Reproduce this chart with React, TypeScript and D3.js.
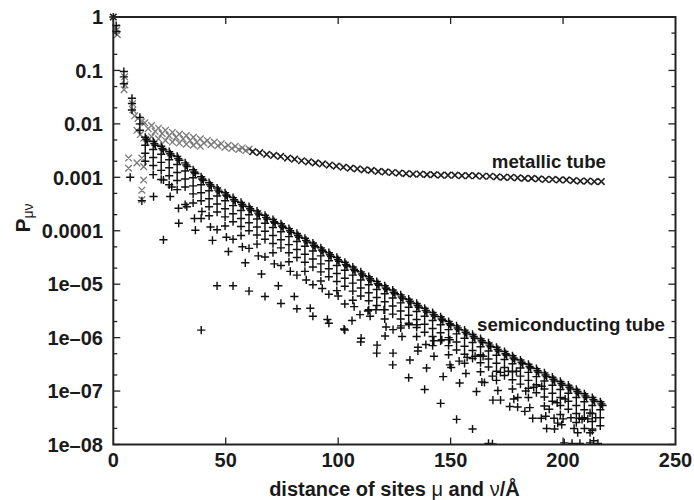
import React from 'react';
import * as d3 from 'd3';

const W = 694;
const H = 500;
const X0 = 113.3, X1 = 675.5, Y0 = 17, Y1 = 444.5;

const xTicks = [0, 50, 100, 150, 200, 250];
const yTicks = [1, 0.1, 0.01, 0.001, 0.0001, 1e-5, 1e-6, 1e-7, 1e-8];
const yTickLabels = ['1', '0.1', '0.01', '0.001', '0.0001', '1e–05', '1e–06', '1e–07', '1e–08'];
const yMinorFactors = [2, 5];

// ---------- metallic tube (log10 P) ----------
const metalEarlyX = [0, 1.5, 1.8, 1.2, 5.0, 5.2, 4.8, 8.5, 8.7, 9.5, 6.8, 6.8, 10.5, 12.7, 13.5, 13.5, 12.7, 12.7];
const metalEarlyLogP = [0, -0.25, -0.33, -0.2, -1.12, -1.27, -1.36, -1.62, -1.74, -1.85, -2.64, -2.83, -2.73, -2.64, -2.8, -3.05, -3.24, -3.42];

const metalX = [15.5, 18.6, 21.7, 24.8, 27.9, 31.0, 34.1, 37.2, 40.3, 43.4, 46.5, 49.6, 52.7, 55.8, 58.9, 62.0, 65.1, 68.2, 71.3, 74.4, 77.5, 80.6, 83.7, 86.8, 89.9, 93.0, 96.1, 99.2, 102.3, 105.4, 108.5, 111.6, 114.7, 117.8, 120.9, 124.0, 127.1, 130.2, 133.3, 136.4, 139.5, 142.6, 145.7, 148.8, 151.9, 155.0, 158.1, 161.2, 164.3, 167.4, 170.5, 173.6, 176.7, 179.8, 182.9, 186.0, 189.1, 192.2, 195.3, 198.4, 201.5, 204.6, 207.7, 210.8, 213.9, 217.0];
const metalLogP = [-2.09, -2.14, -2.18, -2.22, -2.25, -2.28, -2.31, -2.34, -2.36, -2.39, -2.41, -2.44, -2.46, -2.48, -2.5, -2.52, -2.54, -2.57, -2.59, -2.61, -2.64, -2.66, -2.69, -2.71, -2.73, -2.75, -2.77, -2.79, -2.81, -2.83, -2.84, -2.86, -2.87, -2.89, -2.9, -2.91, -2.92, -2.93, -2.94, -2.94, -2.95, -2.95, -2.96, -2.96, -2.96, -2.97, -2.97, -2.97, -2.98, -2.98, -2.99, -3.0, -3.0, -3.01, -3.02, -3.02, -3.03, -3.04, -3.04, -3.05, -3.05, -3.06, -3.07, -3.07, -3.08, -3.08];

const metalUpperX = [11.0, 12.5, 14.0, 17.0, 20.1, 23.2, 26.3, 29.4, 32.5, 35.6, 38.7, 41.8, 44.9, 48.0, 51.1, 54.2, 57.3, 60.4];
const metalUpperLogP = [-1.9, -1.96, -1.98, -2.03, -2.08, -2.12, -2.16, -2.19, -2.22, -2.25, -2.28, -2.31, -2.34, -2.37, -2.4, -2.42, -2.45, -2.47];
const metalLowerX = [10.5, 12.0, 13.5, 17.0, 20.1, 23.2, 26.3, 29.4, 32.5, 35.6, 38.7];
const metalLowerLogP = [-2.12, -2.2, -2.27, -2.24, -2.28, -2.31, -2.34, -2.36, -2.38, -2.4, -2.42];

// ---------- semiconducting tube (log10 P) ----------
const semiColX = [0, 1.3, 4.7, 8.3, 11.8, 14.2, 17.75, 21.3, 24.85, 28.4, 31.95, 35.5, 39.05, 42.6, 46.15, 49.7, 53.25, 56.8, 60.35, 63.9, 67.45, 71.0, 74.55, 78.1, 81.65, 85.2, 88.75, 92.3, 95.85, 99.4, 102.95, 106.5, 110.05, 113.6, 117.15, 120.7, 124.25, 127.8, 131.35, 134.9, 138.45, 142.0, 145.55, 149.1, 152.65, 156.2, 159.75, 163.3, 166.85, 170.4, 173.95, 177.5, 181.05, 184.6, 188.15, 191.7, 195.25, 198.8, 202.35, 205.9, 209.45, 213.0, 216.55];
const semiColLogP = [
  [0], [-0.16, -0.27], [-1.02, -1.12, -1.25], [-1.52, -1.62, -1.74], [-1.88, -2.0, -2.12],
  [-2.25, -2.40, -2.55, -2.70],
  [-2.33, -2.48, -2.63, -2.78, -2.95],
  [-2.42, -2.57, -2.72, -2.87, -3.04],
  [-2.52, -2.67, -2.82, -2.97, -3.14],
  [-2.61, -2.76, -2.91, -3.06, -3.23],
  [-2.73, -2.88, -3.03, -3.18, -3.51],
  [-2.86, -3.01, -3.16, -3.31, -3.48],
  [-2.99, -3.14, -3.29, -3.44, -3.77],
  [-3.10, -3.25, -3.40, -3.55, -3.72],
  [-3.20, -3.35, -3.50, -3.65, -3.98],
  [-3.29, -3.44, -3.59, -3.74, -3.91],
  [-3.38, -3.53, -3.68, -3.83, -4.16],
  [-3.47, -3.62, -3.77, -3.92, -4.09],
  [-3.55, -3.70, -3.85, -4.00, -4.33],
  [-3.63, -3.78, -3.93, -4.08, -4.25],
  [-3.71, -3.86, -4.01, -4.16, -4.49],
  [-3.79, -3.94, -4.09, -4.24, -4.41],
  [-3.87, -4.02, -4.17, -4.32, -4.65],
  [-3.96, -4.11, -4.26, -4.41, -4.58],
  [-4.05, -4.20, -4.35, -4.50, -4.83],
  [-4.14, -4.29, -4.44, -4.59, -4.76],
  [-4.23, -4.38, -4.53, -4.68, -5.01],
  [-4.32, -4.47, -4.62, -4.77, -4.94],
  [-4.41, -4.56, -4.71, -4.86, -5.19],
  [-4.50, -4.65, -4.80, -4.95, -5.12],
  [-4.59, -4.74, -4.89, -5.04, -5.37],
  [-4.68, -4.83, -4.98, -5.13, -5.30],
  [-4.77, -4.92, -5.07, -5.22],
  [-4.86, -5.01, -5.16, -5.31, -5.48],
  [-4.95, -5.10, -5.25, -5.40],
  [-5.03, -5.18, -5.33, -5.48, -5.65],
  [-5.11, -5.26, -5.41, -5.56],
  [-5.20, -5.35, -5.50, -5.65, -5.82],
  [-5.28, -5.43, -5.58, -5.73],
  [-5.36, -5.51, -5.66, -5.81, -5.98],
  [-5.45, -5.60, -5.75, -5.90],
  [-5.53, -5.68, -5.83, -5.98, -6.15],
  [-5.61, -5.76, -5.91, -6.06],
  [-5.70, -5.85, -6.00, -6.15, -6.32],
  [-5.78, -5.93, -6.08, -6.23],
  [-5.86, -6.01, -6.16, -6.31, -6.48],
  [-5.94, -6.09, -6.24, -6.39],
  [-6.02, -6.17, -6.32, -6.47, -6.64],
  [-6.10, -6.25, -6.40, -6.55],
  [-6.18, -6.33, -6.48, -6.63, -6.80],
  [-6.26, -6.41, -6.56, -6.71],
  [-6.34, -6.49, -6.64, -6.79, -6.96],
  [-6.42, -6.57, -6.72, -6.87],
  [-6.50, -6.65, -6.80, -6.95, -7.12],
  [-6.58, -6.73, -6.88, -7.03],
  [-6.66, -6.81, -6.96, -7.11, -7.28],
  [-6.74, -6.89, -7.04, -7.19],
  [-6.82, -6.97, -7.12, -7.27, -7.44],
  [-6.89, -7.04, -7.19, -7.34],
  [-6.97, -7.12, -7.27, -7.42, -7.59],
  [-7.05, -7.20, -7.35, -7.50],
  [-7.12, -7.27, -7.42, -7.57, -7.74],
  [-7.20, -7.35, -7.50, -7.65],
];

const semiEdgeX = [15.2, 18.75, 22.3, 25.85, 29.4, 32.95, 36.5, 40.05, 43.6, 47.15, 50.7, 54.25, 57.8, 61.35, 64.9, 68.45, 72.0, 75.55, 79.1, 82.65, 86.2, 89.75, 93.3, 96.85, 100.4, 103.95, 107.5, 111.05, 114.6, 118.15, 121.7, 125.25, 128.8, 132.35, 135.9, 139.45, 143.0, 146.55, 150.1, 153.65, 157.2, 160.75, 164.3, 167.85, 171.4, 174.95, 178.5, 182.05, 185.6, 189.15, 192.7, 196.25, 199.8, 203.35, 206.9, 210.45, 214.0, 217.55];
const semiEdgeLogP = [-2.32, -2.40, -2.49, -2.59, -2.68, -2.80, -2.93, -3.06, -3.17, -3.27, -3.36, -3.45, -3.54, -3.62, -3.70, -3.78, -3.86, -3.94, -4.03, -4.12, -4.21, -4.30, -4.39, -4.48, -4.57, -4.66, -4.75, -4.84, -4.93, -5.02, -5.10, -5.18, -5.27, -5.35, -5.43, -5.52, -5.60, -5.68, -5.77, -5.85, -5.93, -6.01, -6.09, -6.17, -6.25, -6.33, -6.41, -6.49, -6.57, -6.65, -6.73, -6.81, -6.89, -6.96, -7.04, -7.12, -7.19, -7.27];

const semiEdge2X = [14.7, 18.25, 21.8, 25.35, 28.9, 32.45, 36.0, 39.55, 43.1, 46.65, 50.2, 53.75, 57.3, 60.85, 64.4, 67.95, 71.5, 75.05, 78.6, 82.15, 85.7, 89.25, 92.8, 96.35, 99.9, 103.45, 107.0, 110.55, 114.1, 117.65, 121.2, 124.75, 128.3, 131.85, 135.4, 138.95, 142.5, 146.05, 149.6, 153.15, 156.7, 160.25, 163.8, 167.35, 170.9, 174.45, 178.0, 181.55, 185.1, 188.65, 192.2, 195.75, 199.3, 202.85, 206.4, 209.95, 213.5, 217.05];
const semiEdge2LogP = [-2.29, -2.37, -2.46, -2.56, -2.65, -2.77, -2.90, -3.03, -3.14, -3.24, -3.33, -3.42, -3.51, -3.59, -3.67, -3.75, -3.83, -3.91, -4.00, -4.09, -4.18, -4.27, -4.36, -4.45, -4.54, -4.63, -4.72, -4.81, -4.90, -4.99, -5.07, -5.15, -5.24, -5.32, -5.40, -5.49, -5.57, -5.65, -5.74, -5.82, -5.90, -5.98, -6.06, -6.14, -6.22, -6.30, -6.38, -6.46, -6.54, -6.62, -6.70, -6.78, -6.86, -6.93, -7.01, -7.09, -7.16, -7.24];

const semiLineAX = [46.15, 53.25, 60.35, 67.45, 74.55, 81.65, 88.75, 95.85, 102.95, 110.05, 117.15, 124.25, 131.35, 138.45, 145.55, 152.65, 159.75, 166.85];
const semiLineALogP = [-5.03, -5.03, -5.13, -5.23, -5.36, -5.46, -5.6, -5.73, -5.86, -6.08, -6.29, -6.51, -6.75, -6.97, -7.23, -7.53, -7.71, -7.98];

const semiLineBX = [29.1, 36.5, 44.1, 51.2, 58.7, 65.9, 73.4, 80.5, 87.6, 95.2, 102.6, 110.2, 117.3, 124.4, 131.9, 139.3, 146.7, 154.0, 161.5, 168.8, 176.3, 183.0, 190.3, 197.6, 204.9, 212.0];
const semiLineBLogP = [-3.86, -3.99, -4.18, -4.39, -4.6, -4.81, -5.03, -5.23, -5.45, -5.66, -5.84, -6.01, -6.14, -6.29, -6.42, -6.57, -6.73, -6.85, -7.01, -7.17, -7.29, -7.38, -7.51, -7.6, -7.7, -7.78];

const semiLineCX = [29.0, 36.1, 43.2, 50.3, 57.4, 64.5, 71.6, 78.7, 85.8, 92.9, 100.0, 107.1, 114.2, 121.3, 128.4, 135.5, 142.6, 149.7, 156.8, 163.9, 171.0, 178.1, 185.2, 192.3, 199.4, 206.5, 213.6];
const semiLineCLogP = [-3.58, -3.77, -3.93, -4.12, -4.3, -4.47, -4.62, -4.76, -4.92, -5.08, -5.22, -5.42, -5.6, -5.8, -5.98, -6.18, -6.35, -6.51, -6.67, -6.83, -6.99, -7.15, -7.31, -7.47, -7.63, -7.78, -7.93];

const semiArcX = [106.15, 109.7, 113.25, 116.8, 120.35, 120.85, 124.4, 127.95, 131.5, 135.05, 135.45, 139.0, 142.55, 146.1, 149.65, 150.25, 153.8, 157.35, 160.9, 164.45, 165.05, 168.6, 172.15, 175.7, 179.25, 179.85, 183.4, 186.95, 190.5, 193.85, 197.4, 200.95, 208.45, 212.0];
const semiArcLogP = [-5.68, -5.57, -5.5, -5.48, -5.48, -5.97, -5.85, -5.78, -5.76, -5.76, -6.25, -6.13, -6.06, -6.04, -6.04, -6.56, -6.44, -6.37, -6.35, -6.35, -6.84, -6.72, -6.65, -6.63, -6.63, -7.12, -7.0, -6.93, -6.91, -7.34, -7.22, -7.15, -7.53, -7.41];

const semiExtraX = [7.5, 12.7, 17.9, 22.3, 25.3, 26.0, 22.3, 32.7, 39.4, 39.1, 168.6, 172.2, 179.8, 186.5, 196.0, 200.0, 203.5, 207.2, 211.0, 214.5, 192.7, 196.2, 209.5, 213.0, 200.5, 204.0, 207.5, 212.0, 215.5];
const semiExtraLogP = [-3.0, -3.44, -3.36, -3.05, -3.36, -3.18, -4.17, -3.55, -3.64, -5.86, -7.99, -7.17, -7.3, -7.51, -7.51, -7.52, -7.5, -7.51, -7.52, -7.5, -7.7, -7.71, -7.7, -7.71, -7.97, -7.98, -7.98, -7.97, -7.98];

const FONT = '"Liberation Sans", Arial, Helvetica, sans-serif';

function zip(xs: number[], ls: number[]): [number, number][] {
  return xs.map((v, i) => [v, ls[i]]);
}

export default function App() {
  const x = d3.scaleLinear().domain([0, 250]).range([X0, X1]);
  const y = d3.scaleLog().domain([1e-8, 1]).range([Y1, Y0]);

  const pa = 4.1; // plus half size
  const xa = 3.3; // cross half size
  const plusPath = (pts: [number, number][]) =>
    pts.map(([d, l]) => {
      const px = x(d), py = y(Math.pow(10, l));
      return `M${px - pa},${py}h${2 * pa}M${px},${py - pa}v${2 * pa}`;
    }).join('');
  const crossPath = (pts: [number, number][]) =>
    pts.map(([d, l]) => {
      const px = x(d), py = y(Math.pow(10, l));
      return `M${px - xa},${py - xa}l${2 * xa},${2 * xa}M${px - xa},${py + xa}l${2 * xa},${-2 * xa}`;
    }).join('');

  const semiPts: [number, number][] = [];
  semiColX.forEach((cx, i) => semiColLogP[i].forEach((l) => semiPts.push([cx, l])));
  semiPts.push(...zip(semiEdgeX, semiEdgeLogP));
  semiPts.push(...zip(semiEdge2X, semiEdge2LogP));
  semiPts.push(...zip(semiLineAX, semiLineALogP));
  semiPts.push(...zip(semiLineBX, semiLineBLogP));
  semiPts.push(...zip(semiLineCX, semiLineCLogP));
  semiPts.push(...zip(semiArcX, semiArcLogP));
  semiPts.push(...zip(semiExtraX, semiExtraLogP));

  const metalAll: [number, number][] = [
    ...zip(metalEarlyX, metalEarlyLogP),
    ...zip(metalUpperX, metalUpperLogP),
    ...zip(metalLowerX, metalLowerLogP),
    ...zip(metalX, metalLogP),
  ];
  const isLight = ([d, l]: [number, number]) => d < 62 && !(d < 2 && l > -0.05);
  const metalLight = metalAll.filter(isLight);
  const metalDark = metalAll.filter((p) => !isLight(p));

  const minorVals: number[] = [];
  for (let e = -8; e < 0; e++) yMinorFactors.forEach((f) => minorVals.push(f * Math.pow(10, e)));

  const axisColor = '#222';
  const major = 7, minor = 4;

  return (
    <svg width={W} height={H} style={{ position: 'absolute', left: 0, top: 0, background: '#fff' }}>
      <defs>
        <clipPath id="plotclip">
          <rect x={0} y={0} width={W} height={Y1} />
        </clipPath>
      </defs>
      <rect x={0} y={0} width={W} height={H} fill="#fff" />
      <g clipPath="url(#plotclip)" fill="none">
        <path d={crossPath(metalLight)} stroke="#7a7a7a" strokeWidth={1.3} />
        <path d={crossPath(metalDark)} stroke="#1e1e1e" strokeWidth={1.6} />
        <path d={plusPath(semiPts)} stroke="#111" strokeWidth={1.45} />
      </g>
      {/* ticks */}
      <g stroke={axisColor} strokeWidth={1.3}>
        {yTicks.map((t, i) => (
          <g key={'yt' + i}>
            <line x1={X0} x2={X0 + major} y1={y(t)} y2={y(t)} />
            <line x1={X1} x2={X1 - major} y1={y(t)} y2={y(t)} />
          </g>
        ))}
        {minorVals.map((t, i) => (
          <g key={'ym' + i}>
            <line x1={X0} x2={X0 + minor} y1={y(t)} y2={y(t)} />
            <line x1={X1} x2={X1 - minor} y1={y(t)} y2={y(t)} />
          </g>
        ))}
        {xTicks.slice(1, -1).map((t, i) => (
          <g key={'xt' + i}>
            <line x1={x(t)} x2={x(t)} y1={Y1} y2={Y1 - major} />
            <line x1={x(t)} x2={x(t)} y1={Y0} y2={Y0 + major} />
          </g>
        ))}
      </g>
      <rect x={X0} y={Y0} width={X1 - X0} height={Y1 - Y0} fill="none" stroke={axisColor} strokeWidth={2} />
      {/* tick labels */}
      <g fontFamily={FONT} fontWeight="bold" fontSize={20} fill="#1a1a1a">
        {yTicks.map((t, i) => (
          <text key={'yl' + i} x={103} y={y(t)} dy="0.36em" textAnchor="end">{yTickLabels[i]}</text>
        ))}
        {xTicks.map((t, i) => (
          <text key={'xl' + i} x={x(t)} y={467} textAnchor="middle">{t}</text>
        ))}
      </g>
      {/* axis titles */}
      <text x={(X0 + X1) / 2} y={496} textAnchor="middle" fontFamily={FONT} fontWeight="bold" fontSize={20} fill="#1a1a1a">
        distance of sites <tspan fontWeight="normal">μ</tspan> and <tspan fontWeight="normal">ν</tspan>/Å
      </text>
      <text transform="translate(30,218) rotate(-90)" textAnchor="middle" fontFamily={FONT} fontWeight="bold" fontSize={21} fill="#1a1a1a">
        P<tspan fontSize={14} fontWeight="normal" dy={3}>μν</tspan>
      </text>
      {/* series labels */}
      <g fontFamily={FONT} fontWeight="bold" fontSize={18.7} fill="#1a1a1a" textAnchor="end">
        <text x={606} y={168}>metallic tube</text>
        <text x={665} y={331}>semiconducting tube</text>
      </g>
    </svg>
  );
}
